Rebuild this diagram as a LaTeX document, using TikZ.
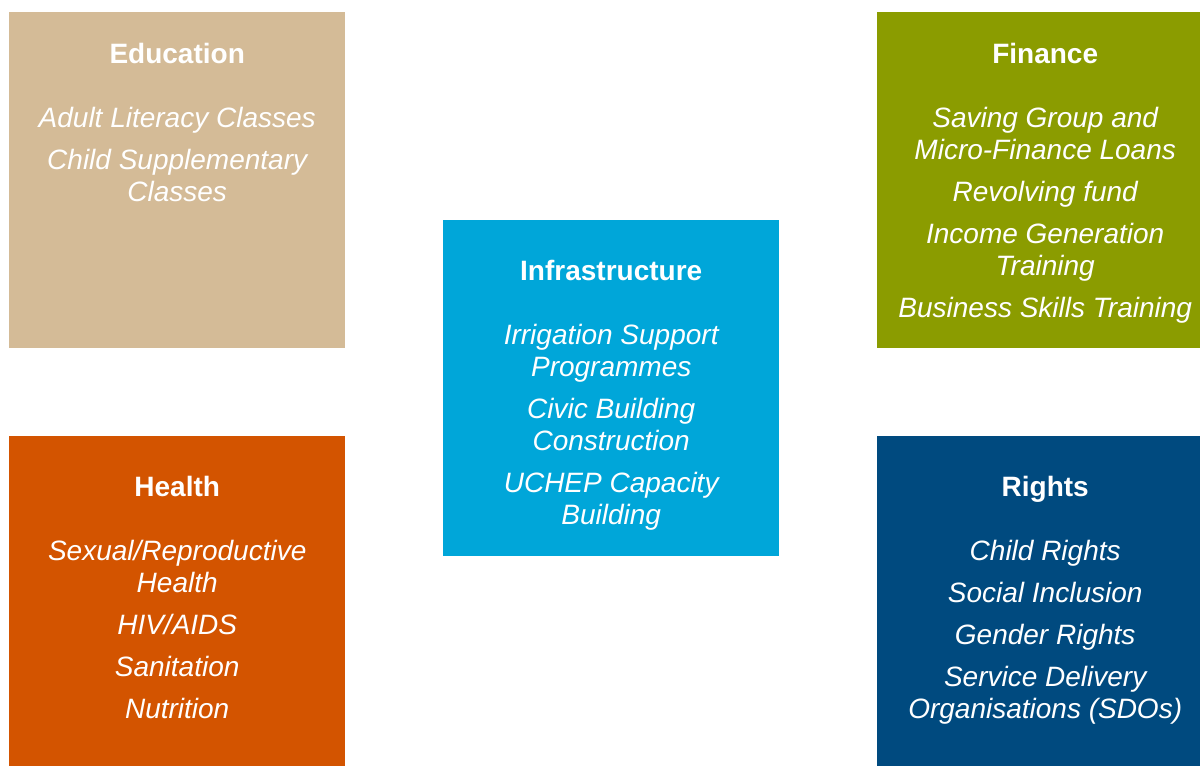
\documentclass[tikz,border=0pt]{standalone}
\usepackage{fontspec}
\setmainfont{Liberation Sans}
\usetikzlibrary{positioning}

\definecolor{edutan}{HTML}{D4BB97}
\definecolor{financeolive}{HTML}{8B9C00}
\definecolor{infrablue}{HTML}{00A6D9}
\definecolor{healthorange}{HTML}{D35400}
\definecolor{rightsnavy}{HTML}{004A7F}

\tikzset{
  panel/.style={rectangle, minimum width=336pt, minimum height=336pt, inner sep=0pt, anchor=north west},
  heading/.style={text=white, inner sep=0pt, font=\bfseries\fontsize{28}{32}\selectfont},
  itemlist/.style={text=white, inner sep=0pt, align=center, font=\itshape\fontsize{28}{32}\selectfont}
}
\newcommand{\itemgap}{\\[10pt]}

\begin{document}
\begin{tikzpicture}[x=1pt, y=-1pt]
	\useasboundingbox (0,0) rectangle (1200,766);
	\clip (0,0) rectangle (1200,766);

	% panels
	\node[panel, fill=edutan] (edu) at (9,12) {};
	\node[panel, fill=financeolive] (fin) at (877,12) {};
	\node[panel, fill=infrablue] (infra) at (443,220) {};
	\node[panel, fill=healthorange] (health) at (9,436) {};
	\node[panel, fill=rightsnavy] (rights) at (877,436) {};

	% headings
	\node[heading, below=51pt of edu.north, anchor=base] (edutitle) {Education};
	\node[heading, below=51pt of fin.north, anchor=base] (fintitle) {Finance};
	\node[heading, below=60pt of infra.north, anchor=base] (infratitle) {Infrastructure};
	\node[heading, below=60pt of health.north, anchor=base] (healthtitle) {Health};
	\node[heading, below=60pt of rights.north, anchor=base] (rightstitle) {Rights};

	% items
	\node[itemlist, below=41.6pt of edutitle.base] (eduitems)
		{\strut Adult Literacy Classes\itemgap Child Supplementary\\Classes};
	\node[itemlist, below=41.6pt of fintitle.base] (finitems)
		{\strut Saving Group and\\Micro-Finance Loans\itemgap Revolving fund\itemgap
		 Income Generation\\Training\itemgap Business Skills Training};
	\node[itemlist, below=41.6pt of infratitle.base] (infraitems)
		{\strut Irrigation Support\\Programmes\itemgap Civic Building\\Construction\itemgap
		 UCHEP Capacity\\Building};
	\node[itemlist, below=41.6pt of healthtitle.base] (healthitems)
		{\strut Sexual/Reproductive\\Health\itemgap HIV/AIDS\itemgap Sanitation\itemgap Nutrition};
	\node[itemlist, below=41.6pt of rightstitle.base] (rightsitems)
		{\strut Child Rights\itemgap Social Inclusion\itemgap Gender Rights\itemgap
		 Service Delivery\\Organisations (SDOs)};
\end{tikzpicture}
\end{document}
